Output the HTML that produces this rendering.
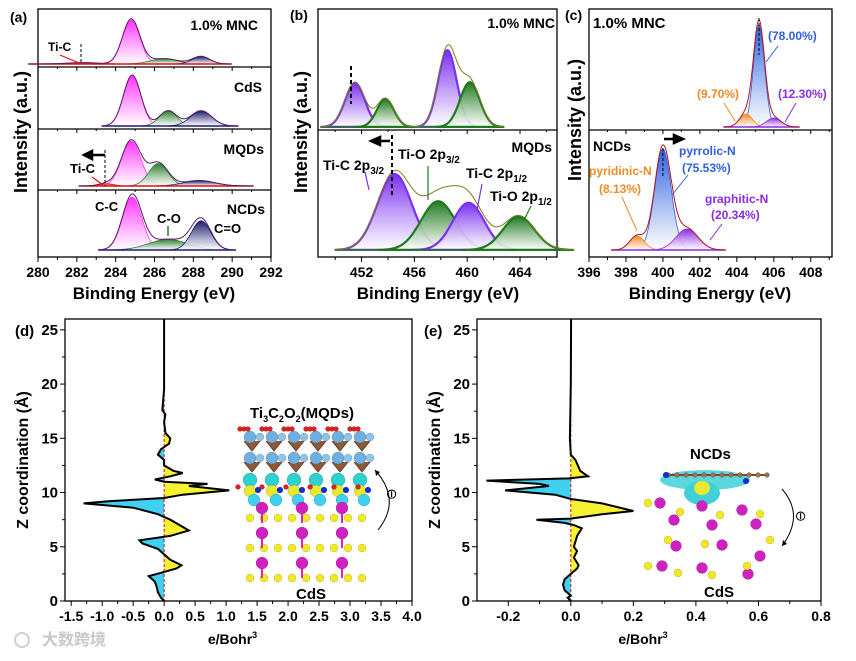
<!DOCTYPE html>
<html><head><meta charset="utf-8"><style>
body{margin:0;background:#fff}
svg{display:block;font-family:"Liberation Sans",Arial,sans-serif;font-weight:bold}
</style></head><body>
<svg id="fig" width="856" height="661" viewBox="0 0 856 661" xmlns="http://www.w3.org/2000/svg">
<defs></defs>
</svg>
<script>
// ---------- data: panel (a) C 1s ----------
const a1Centers=[284.8,286.5,288.4,282.3], a1Heights=[1.0,0.12,0.17,0.03], a1Widths=[0.45,0.7,0.45,0.8];
const a2Centers=[284.85,286.7,288.4], a2Heights=[1.0,0.3,0.3], a2Widths=[0.45,0.45,0.55];
const a3Centers=[284.8,286.2,288.3,283.5], a3Heights=[1.0,0.5,0.12,0.05], a3Widths=[0.5,0.5,0.8,0.4];
const a4Centers=[284.85,286.7,288.4], a4Heights=[1.0,0.2,0.55], a4Widths=[0.5,1.0,0.5];
const aTicks=[280,282,284,286,288,290,292];
// ---------- panel (b) Ti 2p ----------
const b1Centers=[451.5,453.8,458.5,460.2], b1Heights=[0.55,0.35,0.96,0.56], b1Widths=[0.75,0.65,0.7,0.75];
const b2Centers=[454.5,457.8,460.1,463.9], b2Heights=[0.95,0.61,0.59,0.42], b2Widths=[1.3,1.3,1.2,1.2];
const bTicks=[452,456,460,464];
// ---------- panel (c) N 1s ----------
const c1Centers=[405.2,404.5,406.0], c1Heights=[1.02,0.13,0.09], c1Widths=[0.3,0.35,0.4];
const c2Centers=[400.0,398.6,401.3], c2Heights=[1.01,0.14,0.21], c2Widths=[0.45,0.4,0.6];
const cTicks=[396,398,400,402,404,406,408];
// ---------- panel (d) charge density difference ----------
const dZ=[26,19.5,17.6,17.2,16.5,15.5,15,14.5,14,13.5,13,12.5,12,11.8,11.5,11.2,11,10.8,10.6,10.2,9.8,9.5,9.2,9.0,8.6,8,7.5,7,6.5,6,5.6,5.3,4.8,4.3,3.8,3.3,3,2.6,2.3,1.8,1.3,0.8,0.3,0];
const dVal=[0,0,-0.03,0.02,0,0.02,0.1,0.08,-0.05,-0.1,0,0,0.15,0.3,0.1,-0.15,0,0.7,0.4,1.05,0.3,0,-0.9,-1.3,-0.5,-0.1,0.1,0.25,0.4,0.1,-0.4,-0.35,-0.1,0,0.1,0.28,0.2,-0.05,-0.25,-0.15,-0.12,-0.1,-0.05,0];
const dXTicks=[-1.5,-1.0,-0.5,0.0,0.5,1.0,1.5,2.0,2.5,3.0,3.5,4.0];
// ---------- panel (e) ----------
const eZ=[26,20,15,13.5,13,12,11.5,11.3,11.1,10.8,10.6,10.2,9.8,9.4,9,8.3,8,7.6,7.5,7.2,7,6.7,6,5,4.6,4,3.3,3,2.5,2,1.5,1,0.5,0.3,0];
const eVal=[0.001,0,-0.003,0,0.015,0.03,0.055,-0.005,-0.27,-0.1,-0.07,-0.21,-0.05,0,0.1,0.2,0.1,0,-0.11,-0.02,0.01,0.035,0.02,0.01,0.02,0.01,0.025,0.02,0,-0.02,-0.025,-0.02,0,-0.01,0];
const eXTicks=[-0.2,0.0,0.2,0.4,0.6,0.8];
const zTicks=[0,5,10,15,20,25];

const NS="http://www.w3.org/2000/svg";
const svg=document.getElementById('fig');
const defs=svg.querySelector('defs');
function el(tag,attrs,parent){const e=document.createElementNS(NS,tag);for(const k in attrs)e.setAttribute(k,attrs[k]);(parent||svg).appendChild(e);return e;}
function txt(s,x,y,size,attrs,parent){const t=el('text',Object.assign({x:x,y:y,'font-size':size},attrs||{}),parent);t.textContent=s;return t;}
let gid=0;
function grad(color){const id='g'+(gid++);const lg=el('linearGradient',{id:id,x1:0,y1:0,x2:0,y2:1},defs);el('stop',{offset:0,'stop-color':color},lg);el('stop',{offset:1,'stop-color':'#fff','stop-opacity':0.9},lg);return 'url(#'+id+')';}

function xps(name,g,xmin,xmax,X0,X1,baseY,unit,centers,heights,widths,colors,sw,envColor){
  const xs=v=>X0+(v-xmin)/(xmax-xmin)*(X1-X0);
  const ys=v=>baseY-v*unit;
  const lo=Math.min(...centers.map((c,i)=>c-3.5*widths[i])), hi=Math.max(...centers.map((c,i)=>c+3.5*widths[i]));
  for(let i=0;i<centers.length;i++){
    let d='';const c=centers[i],w=widths[i],h=heights[i];
    for(let x=c-3.5*w;x<=c+3.5*w;x+=w/20){const y=h*Math.exp(-0.5*((x-c)/w)**2);d+=(d?'L':'M')+xs(x).toFixed(1)+','+ys(y).toFixed(1);}
    const p=el('path',{d:d+'Z',fill:grad(colors[i]),stroke:colors[i],'stroke-width':sw},g);
    
    
  }
  el('line',{x1:xs(lo),x2:xs(hi),y1:baseY,y2:baseY,stroke:colors[colors.length-1],'stroke-width':1.5},g);
  let d='';
  for(let x=lo;x<=hi;x+=0.03){let s=0;for(let i=0;i<centers.length;i++)s+=heights[i]*Math.exp(-0.5*((x-centers[i])/widths[i])**2);d+=(d?'L':'M')+xs(x).toFixed(1)+','+ys(s*1.02).toFixed(1);}
  const env=el('path',{d:d,fill:'none',stroke:envColor,'stroke-width':1},g);
  
  
}
function frame(name,x0,y0,x1,y1,seps){
  const g=el('g',{});
  
  
  el('rect',{x:x0,y:y0,width:x1-x0,height:y1-y0,fill:'none',stroke:'#000','stroke-width':1.3},g);
  seps.forEach(s=>el('line',{x1:x0,x2:x1,y1:s,y2:s,stroke:'#000','stroke-width':1.3},g));
  return g;
}
function xpsTicks(g,xmin,xmax,X0,X1,Y,ticks,minor,seps,lab){
  const xs=v=>X0+(v-xmin)/(xmax-xmin)*(X1-X0);
  for(let v=Math.ceil(xmin/minor)*minor;v<=xmax+1e-6;v+=minor){
    const major=ticks.some(t=>Math.abs(t-v)<1e-6);
    el('line',{x1:xs(v),x2:xs(v),y1:Y,y2:Y+(major?5:3),stroke:'#000','stroke-width':1},g);
    seps.forEach(s=>el('line',{x1:xs(v),x2:xs(v),y1:s,y2:s+(major?4:2),stroke:'#000','stroke-width':1},g));
  }
  ticks.forEach(t=>{const tt=txt(String(t),xs(t),Y+20,14,{'text-anchor':'middle'},g);});
}

// ===== panel (a) =====
const ga=frame('panel-a',38,9,271,257,[67,129,190]);
const MAG='#ff33ff',GRN='#2e7d32',NAV='#1b1b6e',RED='#e01010';
xps('a-mnc',ga,280,292,38,271,64,44,a1Centers,a1Heights,a1Widths,[MAG,GRN,NAV,RED],0.8,'#5a1a5a');
xps('a-cds',ga,280,292,38,271,126,50,a2Centers,a2Heights,a2Widths,[MAG,GRN,NAV],0.8,'#5a1a5a');
xps('a-mqds',ga,280,292,38,271,186,45,a3Centers,a3Heights,a3Widths,[MAG,GRN,NAV,RED],0.8,'#5a1a5a');
xps('a-ncds',ga,280,292,38,271,250,53,a4Centers,a4Heights,a4Widths,[MAG,GRN,NAV],0.8,'#5a1a5a');
xpsTicks(ga,280,292,38,271,257,aTicks,1,[67,129,190],'a-x');
txt('(a)',10,22,14,{},ga);
txt('1.0% MNC',258,30,14,{'text-anchor':'end'},ga);
txt('CdS',262,92,14,{'text-anchor':'end'},ga);
txt('MQDs',264,154,14,{'text-anchor':'end'},ga);
txt('NCDs',265,214,14,{'text-anchor':'end'},ga);
txt('Ti-C',48,51,12,{},ga);
el('line',{x1:60,y1:55,x2:79,y2:63,stroke:RED,'stroke-width':1.2},ga);
el('line',{x1:81,y1:44,x2:81,y2:63,stroke:'#000','stroke-dasharray':'3,2'},ga);
txt('Ti-C',70,173,13,{},ga);
el('line',{x1:92,y1:177,x2:103,y2:185,stroke:RED,'stroke-width':1.2},ga);
el('line',{x1:105,y1:150,x2:105,y2:186,stroke:'#000','stroke-dasharray':'3,2'},ga);
el('path',{d:'M105,155 L90,155 M84,155 L92,151 L92,159 Z',stroke:'#000','stroke-width':2.5,fill:'#000'},ga);
txt('C-C',95,211,13,{},ga);
txt('C-O',157,223,13,{},ga);
txt('C=O',214,233,13,{},ga);
el('line',{x1:168,y1:236,x2:168,y2:226,stroke:GRN,'stroke-width':1.5},ga);
const aT=txt('Binding Energy (eV)',154,299,17,{'text-anchor':'middle'},ga);
const aY=txt('Intensity (a.u.)',0,0,18,{'text-anchor':'middle',transform:'translate(27,132) rotate(-90)'},ga);

// ===== panel (b) =====
const gb=frame('panel-b',318,9,557,257,[130]);
const PUR='#7b2ff0',GR2='#1f7a1f';
xps('b-mnc',gb,448.7,466.8,318,557,127,80,b1Centers,b1Heights,b1Widths,[PUR,GR2,PUR,GR2],2.2,'#7a7a20');
xps('b-mqds',gb,448.7,466.8,318,557,250,80,b2Centers,b2Heights,b2Widths,[PUR,GR2,PUR,GR2],2.2,'#7a7a20');
xpsTicks(gb,448.7,466.8,318,557,257,bTicks,2,[130],'b-x');
txt('(b)',290,20,14,{},gb);
txt('1.0% MNC',555,28,14,{'text-anchor':'end'},gb);
txt('MQDs',552,152,14,{'text-anchor':'end'},gb);
el('line',{x1:351,y1:66,x2:351,y2:104,stroke:'#000','stroke-width':2,'stroke-dasharray':'4,3'},gb);
el('line',{x1:392,y1:135,x2:392,y2:196,stroke:'#000','stroke-width':2,'stroke-dasharray':'4,3'},gb);
el('path',{d:'M390,141 L378,141 M371,141 L380,137 L380,145 Z',stroke:'#000','stroke-width':2.5,fill:'#000'},gb);
const bl=[['Ti-C 2p','3/2',323,170],['Ti-O 2p','3/2',398,159],['Ti-C 2p','1/2',466,178],['Ti-O 2p','1/2',490,201]];
bl.forEach(b=>{const t=txt(b[0],b[2],b[3],14,{},gb);const s=el('tspan',{'font-size':10,dy:4},t);s.textContent=b[1];});
el('line',{x1:369,y1:190,x2:365,y2:172,stroke:PUR,'stroke-width':1.2},gb);
el('line',{x1:428,y1:200,x2:428,y2:166,stroke:GR2,'stroke-width':1.2},gb);
el('line',{x1:477,y1:210,x2:482,y2:184,stroke:PUR,'stroke-width':1.2},gb);
el('line',{x1:523,y1:222,x2:531,y2:206,stroke:GR2,'stroke-width':1.2},gb);
txt('Binding Energy (eV)',438,299,17,{'text-anchor':'middle'},gb);
txt('Intensity (a.u.)',0,0,18,{'text-anchor':'middle',transform:'translate(307,132) rotate(-90)'},gb);

// ===== panel (c) =====
const gc=frame('panel-c',589,9,832,257,[130]);
const BLU='#2f5fe0',ORG='#f08a24',PU2='#8a2be2';
const CX0=396,CX1=409.15;
xps('c-mnc',gc,CX0,CX1,589,832,127,100,c1Centers,c1Heights,c1Widths,[BLU,ORG,PU2],0.8,'#b01818');
xps('c-ncds',gc,CX0,CX1,589,832,250,100,c2Centers,c2Heights,c2Widths,[BLU,ORG,PU2],0.8,'#b01818');
xpsTicks(gc,CX0,CX1,589,832,257,cTicks,1,[130],'c-x');
const cxs=v=>589+(v-CX0)/(CX1-CX0)*243;
txt('(c)',565,20,14,{},gc);
txt('1.0% MNC',593,28,15,{},gc);
txt('NCDs',593,151,14,{},gc);
el('line',{x1:cxs(c1Centers[0]),y1:18,x2:cxs(c1Centers[0]),y2:55,stroke:'#000','stroke-dasharray':'3,2'},gc);
el('line',{x1:cxs(c2Centers[0]),y1:148,x2:cxs(c2Centers[0]),y2:176,stroke:'#000','stroke-dasharray':'3,2'},gc);
el('path',{d:'M664,139 L676,139 M683,139 L674,135 L674,143 Z',stroke:'#000','stroke-width':2.5,fill:'#000'},gc);
txt('(78.00%)',768,40,12,{fill:BLU},gc);
txt('(9.70%)',697,98,12,{fill:ORG},gc);
txt('(12.30%)',778,98,12,{fill:PU2},gc);
txt('pyrrolic-N',679,155,12,{fill:BLU},gc);
txt('(75.53%)',682,172,12,{fill:BLU},gc);
txt('pyridinic-N',589,175,12,{fill:ORG},gc);
txt('(8.13%)',599,193,12,{fill:ORG},gc);
txt('graphitic-N',705,203,12,{fill:PU2},gc);
txt('(20.34%)',711,219,12,{fill:PU2},gc);
el('line',{x1:778,y1:46,x2:766,y2:62,stroke:BLU},gc);
el('line',{x1:724,y1:103,x2:735,y2:121,stroke:ORG},gc);
el('line',{x1:796,y1:103,x2:785,y2:122,stroke:PU2},gc);
el('line',{x1:622,y1:197,x2:637,y2:231,stroke:ORG},gc);
el('line',{x1:688,y1:175,x2:672,y2:195,stroke:BLU},gc);
el('line',{x1:722,y1:224,x2:710,y2:240,stroke:PU2},gc);
txt('Binding Energy (eV)',710,299,17,{'text-anchor':'middle'},gc);
txt('Intensity (a.u.)',0,0,18,{'text-anchor':'middle',transform:'translate(581,120) rotate(-90)'},gc);

// ===== CDD panels =====
function cdd(name,X0,X1,xmin,xmax,zArr,vArr,xticks,minorStep,fmt){
  const g=el('g',{});
  
  
  const Y0=601,Y1=319,zmax=26;
  const xs=v=>X0+(v-xmin)/(xmax-xmin)*(X1-X0);
  const ys=z=>Y0-z/zmax*(Y0-Y1);
  let d='';zArr.forEach((z,i)=>{d+=(i?'L':'M')+xs(vArr[i]).toFixed(1)+','+ys(zArr[i]).toFixed(1);});
  const poly=d+'L'+xs(0)+','+ys(zArr[zArr.length-1])+'L'+xs(0)+','+ys(zArr[0])+'Z';
  const cp=el('clipPath',{id:name+'-pos'},defs);el('rect',{x:xs(0),y:Y1,width:X1-xs(0),height:Y0-Y1},cp);
  const cn=el('clipPath',{id:name+'-neg'},defs);el('rect',{x:X0,y:Y1,width:xs(0)-X0,height:Y0-Y1},cn);
  const fp=el('path',{d:poly,fill:'#f7f231','clip-path':'url(#'+name+'-pos)'},g);
  
  const fn=el('path',{d:poly,fill:'#3fd0f2','clip-path':'url(#'+name+'-neg)'},g);
  
  el('line',{x1:xs(0),x2:xs(0),y1:Y1,y2:Y0,stroke:'#d01010','stroke-dasharray':'3,2'},g);
  const ln=el('path',{d:d,fill:'none',stroke:'#000','stroke-width':2},g);
  
  el('rect',{x:X0,y:Y1,width:X1-X0,height:Y0-Y1,fill:'none',stroke:'#000','stroke-width':1.3},g);
  for(let v=Math.ceil((xmin)/minorStep)*minorStep;v<=xmax+1e-6;v+=minorStep){
    const major=xticks.some(t=>Math.abs(t-v)<1e-6);
    el('line',{x1:xs(v),x2:xs(v),y1:Y0,y2:Y0+(major?5:3),stroke:'#000'},g);
  }
  xticks.forEach(t=>txt(fmt(t),xs(t),Y0+20,14,{'text-anchor':'middle'},g));
  for(let z=0;z<=zmax;z+=2.5){const major=zTicks.includes(z);el('line',{x1:X0,x2:X0-(major?5:3),y1:ys(z),y2:ys(z),stroke:'#000'},g);}
  zTicks.forEach(z=>txt(String(z),X0-7,ys(z)+5,15,{'text-anchor':'end'},g));
  const xt=txt('e/Bohr',(X0+X1)/2-6,644,14,{'text-anchor':'middle'},g);const sp=el('tspan',{'font-size':9,dy:-6},xt);sp.textContent='3';
  txt('Z coordination (Å)',0,0,16,{'text-anchor':'middle',transform:'translate('+(X0-37)+',460) rotate(-90)'},g);
  return g;
}
const gd=cdd('panel-d',65,412,-1.6,4.0,dZ,dVal,dXTicks,0.25,v=>v.toFixed(1));
const ge=cdd('panel-e',477,821,-0.3,0.8,eZ,eVal,eXTicks,0.1,v=>v.toFixed(1));
txt('(d)',15,336,15,{},gd);
txt('(e)',424,336,15,{},ge);

// structure decorations (d)
function atom(g,x,y,r,c){el('circle',{cx:x,cy:y,r:r,fill:c,stroke:'rgba(0,0,0,0.25)','stroke-width':0.5},g);}
const sd=el('g',{});
for(let i=0;i<6;i++){const x=240+i*22;for(let k=0;k<3;k++)atom(sd,x+k*4,429,2.5,'#e02020');}
[437,458].forEach(y=>{for(let i=0;i<6;i++){el('path',{d:`M${244+i*22},${y+4} l8,10 l8,-10`,fill:'#8b5a3c',stroke:'#6b3a1c'},sd);atom(sd,250+i*22,y,6,'#6fb0e0');atom(sd,260+i*22,y,4,'#8cc4ea');}});
for(let i=0;i<6;i++){atom(sd,250+i*22,480,7,'#2fd0d0');atom(sd,250+i*22,491,6,'#e8e830');atom(sd,258+i*22,490,3,'#1030d0');atom(sd,254+i*22,500,6,'#3fd0f2');}
for(let i=0;i<6;i++)atom(sd,238+i*24,487,2.5,'#e02020');
[[518,'#f2ea20'],[548,'#f2ea20'],[578,'#f2ea20']].forEach(r=>{for(let i=0;i<9;i++)atom(sd,250+i*14,r[0],4,r[1]);});
[505,530,560].forEach(y=>{for(let i=0;i<3;i++){el('line',{x1:262+i*40,y1:y,x2:262+i*40,y2:y+18,stroke:'#e020c0','stroke-width':2},sd);atom(sd,262+i*40,y+3,6,'#d020c0');}});
el('path',{d:'M375,470 Q402,500 378,530',fill:'none',stroke:'#000'},sd);
el('path',{d:'M375,470 l1,6 l4,-4 Z',fill:'#000'},sd);
txt('⊖',0,0,14,{transform:'translate(396,500) rotate(-90)','font-weight':'normal'},sd);
const tl=txt('Ti',250,418,15,{},sd);


const s1=el('tspan',{'font-size':9,dy:4},tl);s1.textContent='3';
const s2=el('tspan',{dy:-4},tl);s2.textContent='C';
const s3=el('tspan',{'font-size':9,dy:4},tl);s3.textContent='2';
const s4=el('tspan',{dy:-4},tl);s4.textContent='O';
const s5=el('tspan',{'font-size':9,dy:4},tl);s5.textContent='2';
const s6=el('tspan',{dy:-4},tl);s6.textContent='(MQDs)';
txt('CdS',296,599,15,{},sd);

// structure decorations (e)
const se=el('g',{});
el('ellipse',{cx:705,cy:480,rx:45,ry:10,fill:'#3fd0d8',opacity:0.85},se);
el('ellipse',{cx:702,cy:493,rx:18,ry:12,fill:'#3fd0d8'},se);
el('ellipse',{cx:702,cy:488,rx:8,ry:7,fill:'#e8e830'},se);
el('line',{x1:666,y1:475,x2:768,y2:475,stroke:'#7a4a30','stroke-width':2},se);
for(let i=0;i<12;i++)atom(se,668+i*9,475,2.5,'#a07050');
atom(se,666,475,3,'#1030d0');atom(se,746,481,3,'#1030d0');
[[648,503],[690,506],[730,510],[662,520],[700,525],[744,524],[664,546],[710,545],[748,556],[650,566],[690,568],[736,574]].forEach(p=>{atom(se,p[0]+12,p[1],5.5,'#d020c0');});
[[648,503],[680,512],[720,515],[760,514],[668,540],[705,544],[770,540],[648,566],[678,573],[712,575],[747,566]].forEach(p=>atom(se,p[0],p[1],4,'#f2ea20'));
el('path',{d:'M782,489 Q805,515 782,546',fill:'none',stroke:'#000'},se);
el('path',{d:'M782,546 l5,-2 l-4,-4 Z',fill:'#000'},se);
txt('⊖',0,0,14,{transform:'translate(805,522) rotate(-90)','font-weight':'normal'},se);
txt('NCDs',690,459,15,{},se);
txt('CdS',704,597,15,{},se);

// watermark
const wm=txt('大数跨境',42,645,16,{fill:'#c8c8c8','font-family':'"Liberation Sans","Noto Sans CJK SC",sans-serif'});

el('circle',{cx:22,cy:640,r:7,fill:'none',stroke:'#d0d0d0','stroke-width':2});
</script>
</body></html>
